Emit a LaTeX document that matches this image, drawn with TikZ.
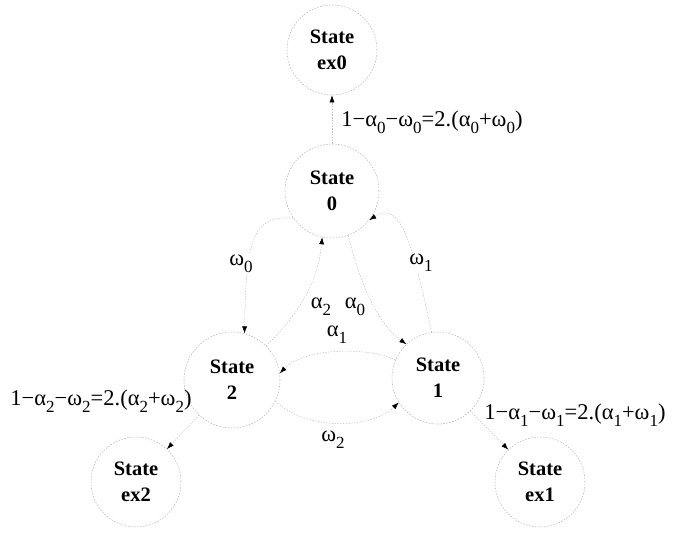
\documentclass[tikz,border=0pt]{standalone}
\usepackage{fontspec}
\setmainfont{Liberation Serif}
\usetikzlibrary{arrows.meta}
\newcommand\sbs[1]{\raisebox{-0.3em}{\fontsize{17}{17}\selectfont #1}}
\begin{document}
\begin{tikzpicture}[x=1pt,y=-1pt,
  state/.style={circle, draw=gray!55, dash pattern=on 1.6pt off 1.4pt, line width=0.55pt,
    inner sep=0pt, align=center, font=\fontsize{20.5}{26}\selectfont\bfseries},
  conn/.style={draw=gray!50, dash pattern=on 1.4pt off 1.4pt, line width=0.5pt,
    -{Latex[length=7pt,width=5pt,color=black]}},
  lbl/.style={font=\fontsize{22.5}{26}\selectfont, inner sep=1pt},
  glbl/.style={lbl, fill=white}
]
\useasboundingbox (0,0) rectangle (679,538);

\node[state, minimum size=90pt] (ex0) at (332,50) {State\\ex0};
\node[state, minimum size=94pt] (s0) at (332,191) {State\\0};
\node[state, minimum size=96pt] (s2) at (232,380) {State\\2};
\node[state, minimum size=92pt] (s1) at (438,378) {State\\1};
\node[state, minimum size=90pt] (ex2) at (136,482) {State\\ex2};
\node[state, minimum size=90pt] (ex1) at (540,482) {State\\ex1};

% exits
\draw[conn] (s0) -- (ex0);
\draw[conn] (s2) -- (ex2);
\draw[conn] (s1) -- (ex1);

% transitions
\draw[conn] (s2.45) .. controls (295,318) and (318,285) .. (s0.-102);
\draw[conn] (s0.-70) .. controls (358,275) and (375,322) .. (s1.133);
\draw[conn] (s1.157) .. controls (370,347) and (305,347) .. (s2.8);
\draw[conn] (s2.-26) .. controls (305,430) and (370,430) .. (s1.-148);
\draw[conn] (s0.-145) .. controls (252,215) and (246,240) .. (s2.75);
\draw[conn] (s1.98) .. controls (412,240) and (400,200) .. (s0.-38);

% labels
\node[lbl] (l0) at (432,122) {1−α\sbs{0}−ω\sbs{0}=2.(α\sbs{0}+ω\sbs{0})};
\node[lbl] (l2) at (101,401) {1−α\sbs{2}−ω\sbs{2}=2.(α\sbs{2}+ω\sbs{2})};
\node[lbl] (l1) at (575,415) {1−α\sbs{1}−ω\sbs{1}=2.(α\sbs{1}+ω\sbs{1})};
\node[glbl] (la2) at (321,307) {α\sbs{2}};
\node[glbl] (la0) at (355,307) {α\sbs{0}};
\node[glbl] (la1) at (337,335) {α\sbs{1}};
\node[glbl] (lw2) at (333,440) {ω\sbs{2}};
\node[glbl] (lw0) at (241,264) {ω\sbs{0}};
\node[glbl] (lw1) at (421,263) {ω\sbs{1}};
\end{tikzpicture}
\end{document}
